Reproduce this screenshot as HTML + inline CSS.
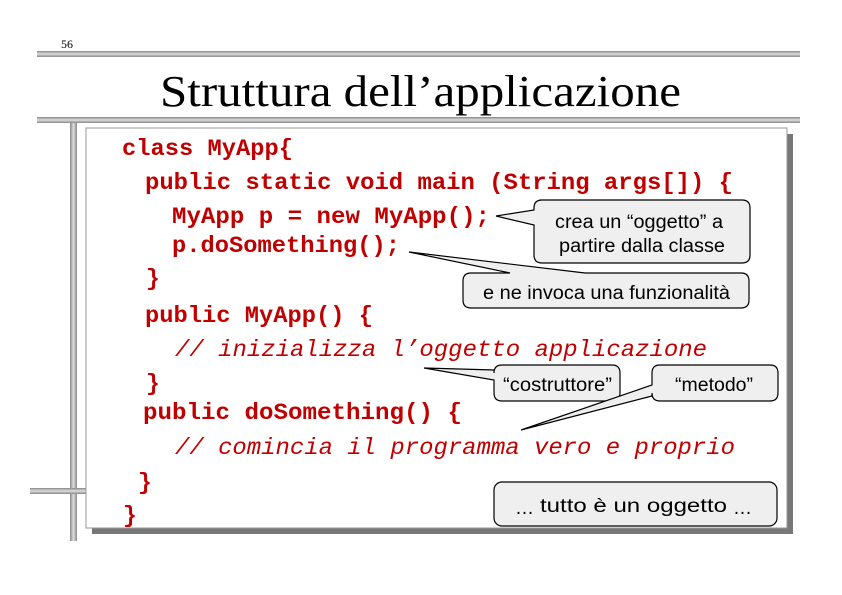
<!DOCTYPE html>
<html><head><meta charset="utf-8"><style>
html,body{margin:0;padding:0;background:#fff}
svg{display:block}
.c{font-family:"Liberation Mono","Courier New",monospace;font-weight:bold;font-size:23px;fill:#c00000}
.i{font-style:italic;font-weight:normal}
.s{font-family:"Liberation Sans",Arial,sans-serif;font-size:19px;fill:#000}
</style></head><body>
<svg width="842" height="595" viewBox="0 0 842 595" xmlns="http://www.w3.org/2000/svg">
<defs>
<linearGradient id="h" x1="0" y1="0" x2="0" y2="1"><stop offset="0" stop-color="#888"/><stop offset="0.5" stop-color="#ddd"/><stop offset="1" stop-color="#888"/></linearGradient>
<linearGradient id="v" x1="0" y1="0" x2="1" y2="0"><stop offset="0" stop-color="#888"/><stop offset="0.5" stop-color="#ddd"/><stop offset="1" stop-color="#888"/></linearGradient>
</defs>
<text x="61" y="48" font-family="Liberation Serif,serif" font-size="12">56</text>
<rect x="37" y="51" width="763" height="6" fill="url(#h)"/>
<text x="160" y="106" font-family="Liberation Serif,serif" font-size="44" textLength="521" lengthAdjust="spacingAndGlyphs">Struttura dell’applicazione</text>
<rect x="37" y="117" width="763" height="6" fill="url(#h)"/>
<rect x="70" y="123" width="7" height="418" fill="url(#v)"/>
<rect x="30" y="488" width="56" height="6" fill="url(#h)"/>
<rect x="92" y="134" width="701" height="400" fill="#777"/>
<rect x="86" y="128" width="701" height="400" fill="#fff" stroke="#999" stroke-width="1"/>
<text class="c" x="122" y="155" textLength="171" lengthAdjust="spacingAndGlyphs">class MyApp{</text>
<text class="c" x="145" y="189" textLength="588" lengthAdjust="spacingAndGlyphs">public static void main (String args[]) {</text>
<text class="c" x="172" y="223" textLength="318" lengthAdjust="spacingAndGlyphs">MyApp p = new MyApp();</text>
<text class="c" x="172" y="252" textLength="228" lengthAdjust="spacingAndGlyphs">p.doSomething();</text>
<text class="c" x="146" y="285">}</text>
<text class="c" x="145" y="322" textLength="228" lengthAdjust="spacingAndGlyphs">public MyApp() {</text>
<text class="c i" x="175" y="356" textLength="532" lengthAdjust="spacingAndGlyphs">// inizializza l’oggetto applicazione</text>
<text class="c" x="146" y="390">}</text>
<text class="c" x="143" y="419" textLength="319" lengthAdjust="spacingAndGlyphs">public doSomething() {</text>
<text class="c i" x="175" y="454" textLength="560" lengthAdjust="spacingAndGlyphs">// comincia il programma vero e proprio</text>
<text class="c" x="138" y="489">}</text>
<text class="c" x="123" y="522">}</text>
<g fill="#efefef" stroke="#000" stroke-width="1.2">
<path d="M540,200 H742 Q750,200 750,208 V255 Q750,263 742,263 H542 Q534,263 534,255 V225 L496,216 L534,210 V208 Q534,200 542,200 Z"/>
<path d="M471,273 H510 L409,252 L585,273 H741 Q749,273 749,281 V300 Q749,308 741,308 H471 Q463,308 463,300 V281 Q463,273 471,273 Z"/>
<path d="M502,365 H612 Q620,365 620,373 V393 Q620,401 612,401 H502 Q494,401 494,393 V380 L424,368 L494,370 V373 Q494,365 502,365 Z"/>
<path d="M660,365 H770 Q778,365 778,373 V393 Q778,401 770,401 H660 Q652,401 652,393 V396 L521,430 L652,385 V373 Q652,365 660,365 Z"/>
<rect x="494" y="482" width="283" height="44" rx="8" ry="8"/>
</g>
<text class="s" x="555" y="228" textLength="168" lengthAdjust="spacingAndGlyphs">crea un “oggetto” a</text>
<text class="s" x="559" y="252" textLength="166" lengthAdjust="spacingAndGlyphs">partire dalla classe</text>
<text class="s" x="483" y="299" textLength="247" lengthAdjust="spacingAndGlyphs">e ne invoca una funzionalità</text>
<text class="s" x="503" y="391" textLength="109" lengthAdjust="spacingAndGlyphs">“costruttore”</text>
<text class="s" x="675" y="391" textLength="78" lengthAdjust="spacingAndGlyphs">“metodo”</text>
<text class="s" x="515" y="514" font-size="12">…</text>
<text class="s" x="540" y="512" font-size="23" textLength="187" lengthAdjust="spacingAndGlyphs">tutto è un oggetto</text>
<text class="s" x="733" y="514" font-size="12">…</text>
</svg>
</body></html>
